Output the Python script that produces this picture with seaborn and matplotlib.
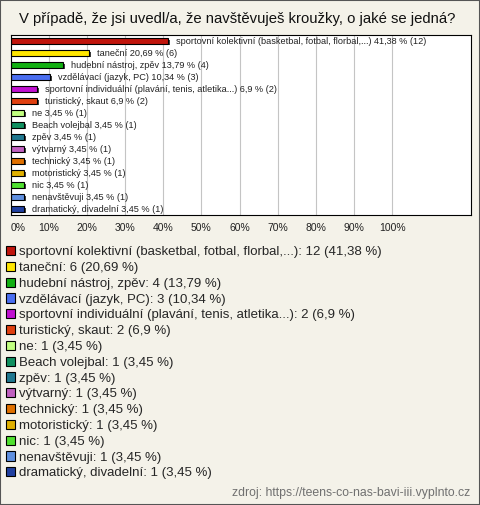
import matplotlib
matplotlib.use('Agg')
import matplotlib.pyplot as plt
import matplotlib.patheffects as pe
from matplotlib.patches import Patch, Rectangle
import pandas as pd
import seaborn as sns

# data
categories = [
    'sportovní kolektivní (basketbal, fotbal, florbal,...)',
    'taneční',
    'hudební nástroj, zpěv',
    'vzdělávací (jazyk, PC)',
    'sportovní individuální (plavání, tenis, atletika...)',
    'turistický, skaut',
    'ne',
    'Beach volejbal',
    'zpěv',
    'výtvarný',
    'technický',
    'motoristický',
    'nic',
    'nenavštěvuji',
    'dramatický, divadelní',
]
counts = [12, 6, 4, 3, 2, 2, 1, 1, 1, 1, 1, 1, 1, 1, 1]
percents = [41.38, 20.69, 13.79, 10.34, 6.9, 6.9,
            3.45, 3.45, 3.45, 3.45, 3.45, 3.45, 3.45, 3.45, 3.45]
colors = ['#c0150c', '#ffe600', '#12b012', '#4a6ef0', '#c010d0', '#e04010',
          '#c2ff80', '#109060', '#207890', '#c060c0', '#e07000', '#e0b000',
          '#50e030', '#6090e0', '#2040a0']
x_ticks = list(range(0, 101, 10))

title = 'V případě, že jsi uvedl/a, že navštěvuješ kroužky, o jaké se jedná?'
source = 'zdroj: https://teens-co-nas-bavi-iii.vyplnto.cz'
bg = '#f4f2e9'


def cz(p):
    # czech decimal comma
    return f'{p:g}'.replace('.', ',')


sns.set_theme(style='white')
plt.rcParams['font.family'] = ['Liberation Sans', 'DejaVu Sans']

df = pd.DataFrame({'kategorie': categories, 'procenta': percents, 'pocet': counts})

fig = plt.figure(figsize=(4.8, 5.05), dpi=100, facecolor=bg)
ax = fig.add_axes([0.0219, 0.574, 0.959, 0.3565])
ax.set_facecolor('white')

sns.barplot(data=df, x='procenta', y='kategorie', hue='kategorie', palette=colors,
            orient='h', width=0.45, edgecolor='black', linewidth=0.8,
            saturation=1, legend=False, ax=ax)

# fake 3d look
for bar in ax.patches:
    bar.set_path_effects([pe.SimplePatchShadow(offset=(1.4, -1.2), shadow_rgbFace='black', alpha=0.75),
                          pe.Normal()])

for i, row in df.iterrows():
    ax.text(row['procenta'] + 2.1, i,
            f"{row['kategorie']} {cz(row['procenta'])} % ({row['pocet']})",
            va='center', ha='left', fontsize=6.6, color='#222222')

ax.set_xlim(0, 120.6)
ax.set_ylim(len(categories) - 0.5, -0.5)
ax.set_xticks(x_ticks)
ax.set_xticklabels([f'{t}%' for t in x_ticks])
ax.get_xticklabels()[0].set_ha('left')
ax.set_yticks([])
ax.set_xlabel('')
ax.set_ylabel('')
ax.tick_params(axis='x', length=0, pad=6, labelsize=7.5, colors='#222222')
ax.grid(axis='x', color='#c4c4c4', linewidth=0.8)
ax.set_axisbelow(True)
for s in ax.spines.values():
    s.set_color('black')
    s.set_linewidth(0.8)

handles = [Patch(facecolor=c, edgecolor='black', linewidth=0.8) for c in colors]
labels = [f'{c}: {n} ({cz(p)} %)' for c, n, p in zip(categories, counts, percents)]
fig.legend(handles, labels, loc='upper left', bbox_to_anchor=(0.0125, 0.513),
           frameon=False, fontsize=9.5, handlelength=0.7, handleheight=0.7,
           handletextpad=0.25, labelspacing=0.27, borderaxespad=0, borderpad=0)

fig.text(0.494, 1 - 19 / 505, title, ha='center', va='center', fontsize=10.7, color='#111111')
fig.text(470 / 480, 1 - 493 / 505, source, ha='right', va='center', fontsize=8.8, color='#707070')

fig.patches.append(Rectangle((0, 0), 1, 1, transform=fig.transFigure, fill=False,
                             edgecolor='#555555', linewidth=1.5))

fig.savefig('out.png', dpi=100, facecolor=bg)
